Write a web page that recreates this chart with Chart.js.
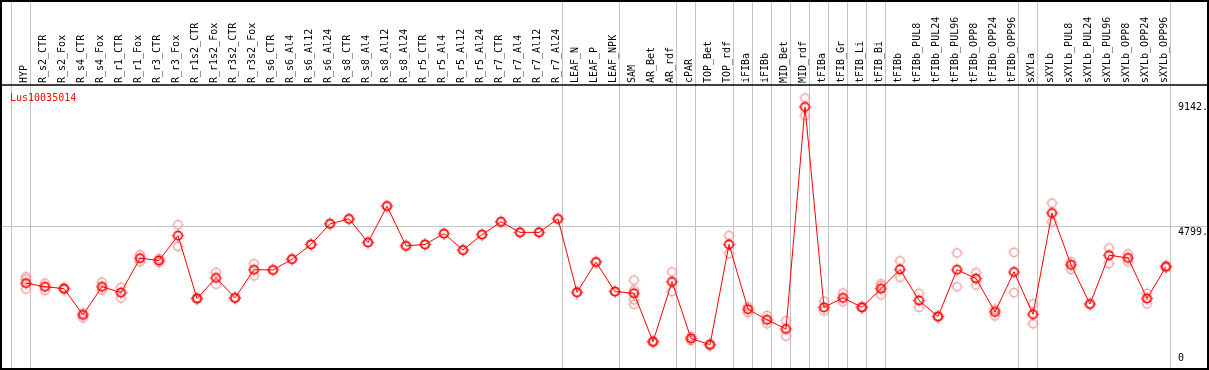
<!DOCTYPE html>
<html>
<head>
<meta charset="utf-8">
<script src="https://cdn.jsdelivr.net/npm/chart.js@4.4.1/dist/chart.umd.min.js"></script>
<style>
  html, body { margin: 0; padding: 0; background: #fff; }
  canvas { display: block; }
</style>
</head>
<body>
<canvas id="expr" width="1209" height="370"></canvas>
<script>
"use strict";

// Gene shown in the header
var geneId = "Lus10035014";

// Samples, left to right
var categories = [
    "HYP", "R_s2_CTR", "R_s2_Fox", "R_s4_CTR", "R_s4_Fox", "R_r1_CTR", "R_r1_Fox",
    "R_r3_CTR", "R_r3_Fox", "R_r1s2_CTR", "R_r1s2_Fox", "R_r3s2_CTR", "R_r3s2_Fox",
    "R_s6_CTR", "R_s6_Al4", "R_s6_Al12", "R_s6_Al24", "R_s8_CTR", "R_s8_Al4", "R_s8_Al12",
    "R_s8_Al24", "R_r5_CTR", "R_r5_Al4", "R_r5_Al12", "R_r5_Al24", "R_r7_CTR", "R_r7_Al4",
    "R_r7_Al12", "R_r7_Al24", "LEAF_N", "LEAF_P", "LEAF_NPK", "SAM", "AR_Bet", "AR_rdf",
    "cPAR", "TOP_Bet", "TOP_rdf", "iFIBa", "iFIBb", "MID_Bet", "MID_rdf", "tFIBa",
    "tFIB_Gr", "tFIB_Li", "tFIB_Bi", "tFIBb", "tFIBb_PUL8", "tFIBb_PUL24", "tFIBb_PUL96",
    "tFIBb_OPP8", "tFIBb_OPP24", "tFIBb_OPP96", "sXYLa", "sXYLb", "sXYLb_PUL8",
    "sXYLb_PUL24", "sXYLb_PUL96", "sXYLb_OPP8", "sXYLb_OPP24", "sXYLb_OPP96"
];

// Mean expression per sample
var meanValues = [
    2807, 2684, 2616, 1705, 2684, 2480, 3673, 3592, 4458, 2275, 2991, 2295, 3274,
    3264, 3639, 4151, 4867, 5038, 4219, 5481, 4103, 4151, 4526, 3957, 4492, 4935, 4570,
    4570, 5038, 2490, 3537, 2513, 2456, 774, 2855, 887, 672, 4151, 1900, 1535, 1217,
    8926, 1968, 2295, 1968, 2616, 3285, 2207, 1648, 3274, 2967, 1808, 3196, 1729, 5242,
    3445, 2081, 3776, 3684, 2275, 3377
];

// Individual replicates (null where a sample has fewer)
var rep1 = [
    3025, 2807, 2650, 1763, 2841, 2660, 3796, 3660, 4833, 2295, 3182, 2295, 3479,
    3264, 3639, 4151, 4867, 5038, 4219, 5481, 4103, 4151, 4526, 3957, 4492, 4935, 4570,
    4570, 5038, 2490, 3537, 2513, 2910, 800, 3196, 955, 700, 4458, 1990, 1682, 1501,
    9233, 2183, 2466, 1990, 2787, 3581, 2456, 1660, 3854, 3172, 1900, 3878, 2091, 5583,
    3547, 2081, 4025, 3820, 2456, 3420
];
var rep2 = [
    2602, 2548, 2592, 1603, 2568, 2295, 3547, 3523, 4083, 2251, 2773, 2295, 3060,
    null, null, null, null, null, null, null, null, null, null, null, null, null, null,
    null, null, null, null, null, 2070, 750, 2514, 819, 645, 3830, 1784, 1398, 966,
    8619, 1842, 2159, 1950, 2398, 3012, 1968, 1635, 2684, 2739, 1671, 2480, 1398, 4935,
    3285, null, 3489, 3547, 2091, 3340
];
var rep3 = [
    2943, null, null, null, null, null, null, null, null, null, null, null, null,
    null, null, null, null, null, null, null, null, null, null, null, null, null, null,
    null, null, null, null, null, 2570, null, null, null, null, null, null, null, null,
    null, null, null, null, 2720, null, null, null, null, null, null, null, null, null,
    null, null, null, null, null, null
];
var rep4 = [
    null, null, null, null, null, null, null, null, null, null, null, null, null,
    null, null, null, null, null, null, null, null, null, null, null, null, null, null,
    null, null, null, null, null, 2230, null, null, null, null, null, null, null, null,
    null, null, null, null, null, null, null, null, null, null, null, null, null, null,
    null, null, null, null, null, null
];

// Right-hand value labels and the one horizontal guide
var yTickValues = [9142, 4799, 0];
var yTickLabels = ["9142.", "4799.", "0"];
var gridValues = [4799];

// Samples that close a tissue group (separator drawn after them)
var groupEnds = [
    "HYP", "R_r7_Al24", "LEAF_NPK", "AR_rdf", "cPAR", "TOP_rdf", "iFIBa", "iFIBb",
    "MID_Bet", "MID_rdf", "tFIBa", "tFIB_Gr", "tFIB_Li", "tFIB_Bi", "tFIBb_OPP96",
    "sXYLa", "sXYLb_OPP96"
];

var FONT = "10px 'DejaVu Sans Mono', monospace";

// open circle with single-pixel ticks at N/E/S/W
function marker(color, width) {
    var c = document.createElement("canvas");
    c.width = 15;
    c.height = 15;
    var g = c.getContext("2d");
    g.strokeStyle = color;
    g.fillStyle = color;
    g.lineWidth = width;
    g.beginPath();
    g.arc(7.5, 7.5, 4.2, 0, Math.PI * 2);
    g.stroke();
    g.fillRect(7, 1.5, 1, 1);
    g.fillRect(7, 12.5, 1, 1);
    g.fillRect(1.5, 7, 1, 1);
    g.fillRect(12.5, 7, 1, 1);
    return c;
}

var meanMarker = marker("#ff0000", 1.8);
var repMarker = marker("#ef9c9c", 1.3);

function repSet(data) {
    return {
        data: data,
        showLine: false,
        pointStyle: repMarker,
        pointRadius: 5,
        order: 2,
        clip: false
    };
}

// Background guides, header labels, value labels
var decor = {
    id: "decor",
    beforeDraw: function (chart) {
        var ctx = chart.ctx;
        ctx.save();
        ctx.fillStyle = "#fff";
        ctx.fillRect(0, 0, chart.width, chart.height);
        ctx.restore();
    },
    beforeDatasetsDraw: function (chart) {
        var ctx = chart.ctx, x = chart.scales.x, y = chart.scales.y;
        var area = chart.chartArea;
        ctx.save();
        ctx.strokeStyle = "#c4c4c4";
        ctx.lineWidth = 1;
        ctx.beginPath();
        var ends = [-1].concat(groupEnds.map(function (n) { return categories.indexOf(n); }));
        ends.forEach(function (i) {
            var px = Math.floor(x.getPixelForValue(i + 0.24)) + 0.5;
            ctx.moveTo(px, 0);
            ctx.lineTo(px, chart.height);
        });
        gridValues.forEach(function (v) {
            var py = Math.round(y.getPixelForValue(v)) + 0.5;
            ctx.moveTo(0, py);
            ctx.lineTo(chart.width, py);
        });
        ctx.stroke();

        // sample names, rotated, above the plot
        ctx.fillStyle = "#000";
        ctx.font = FONT;
        ctx.textAlign = "left";
        ctx.textBaseline = "alphabetic";
        categories.forEach(function (name, i) {
            ctx.save();
            ctx.translate(x.getPixelForValue(i) + 1, area.top - 2);
            ctx.rotate(-Math.PI / 2);
            ctx.fillText(name, 0, 0);
            ctx.restore();
        });

        // gene id
        ctx.fillStyle = "#ff0000";
        ctx.fillText(geneId, 10, area.top + 16);

        // value labels on the right
        ctx.fillStyle = "#000";
        ctx.textBaseline = "top";
        yTickValues.forEach(function (v, i) {
            var py = Math.min(y.getPixelForValue(v) + 1.5, area.bottom - 11);
            ctx.fillText(yTickLabels[i], 1178, py);
        });
        ctx.restore();
    },
    afterDraw: function (chart) {
        var ctx = chart.ctx, area = chart.chartArea;
        ctx.save();
        ctx.strokeStyle = "#000";
        ctx.lineWidth = 2;
        ctx.strokeRect(1, 1, chart.width - 2, chart.height - 2);
        ctx.lineWidth = 1.5;
        ctx.beginPath();
        ctx.moveTo(0, area.top);
        ctx.lineTo(chart.width, area.top);
        ctx.stroke();
        ctx.restore();
    }
};

new Chart(document.getElementById("expr").getContext("2d"), {
    type: "line",
    data: {
        labels: categories,
        datasets: [
            {
                data: meanValues,
                borderColor: "#ff0000",
                borderWidth: 1,
                tension: 0,
                pointStyle: meanMarker,
                pointRadius: 5,
                order: 1,
                clip: false
            },
            repSet(rep1),
            repSet(rep2),
            repSet(rep3),
            repSet(rep4)
        ]
    },
    options: {
        responsive: false,
        devicePixelRatio: 1,
        animation: false,
        layout: { padding: { left: 26, right: 43, top: 85, bottom: 1 } },
        plugins: {
            legend: { display: false },
            tooltip: { enabled: false }
        },
        scales: {
            x: { display: false },
            y: { display: false, min: 0, max: 9686 }
        }
    },
    plugins: [decor]
});
</script>
</body>
</html>
